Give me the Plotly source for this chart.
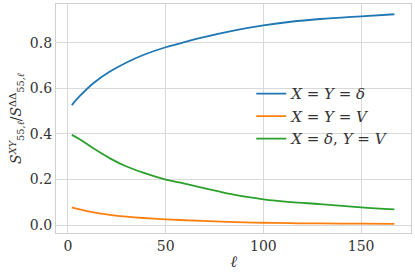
import plotly.graph_objects as go

ell = [2, 6, 13, 21.5, 30, 38.5, 50, 57, 69, 86, 100, 114, 129, 150, 167]
s_dd = [0.527, 0.566, 0.623, 0.674, 0.714, 0.747, 0.781, 0.797, 0.824, 0.856, 0.877, 0.893, 0.905, 0.917, 0.926]
s_vv = [0.078, 0.069, 0.056, 0.045, 0.037, 0.031, 0.025, 0.022, 0.018, 0.013, 0.010, 0.008, 0.007, 0.006, 0.005]
s_dv = [0.396, 0.377, 0.337, 0.293, 0.257, 0.230, 0.200, 0.187, 0.163, 0.131, 0.113, 0.101, 0.092, 0.078, 0.069]

xticks = [0, 50, 100, 150]
yticks = [0.0, 0.2, 0.4, 0.6, 0.8]

font = "DejaVu Serif"

fig = go.Figure()
for y, c, n in [(s_dd, "#1f77b4", "<i>X</i> = <i>Y</i> = <i>δ</i>"),
                (s_vv, "#ff7f0e", "<i>X</i> = <i>Y</i> = <i>V</i>"),
                (s_dv, "#2ca02c", "<i>X</i> = <i>δ</i>, <i>Y</i> = <i>V</i>")]:
    fig.add_trace(go.Scatter(x=ell, y=y, mode="lines",
                             line=dict(color=c, width=1.8, shape="spline", smoothing=1.0), name=n))

axis_common = dict(showgrid=True, gridcolor="#d9d9d9", gridwidth=1, zeroline=False,
                   showline=True, linecolor="#d0d0d0", linewidth=1.2, mirror=True,
                   ticks="", tickfont=dict(size=14, color="#333333", family=font))

fig.update_layout(
    width=415, height=272,
    margin=dict(l=56, r=4, t=4, b=39),
    paper_bgcolor="white", plot_bgcolor="white",
    font=dict(family=font, color="#222222"),
    showlegend=True,
    legend=dict(x=0.55, y=0.68, xanchor="left", yanchor="top", bgcolor="rgba(255,255,255,0)",
                font=dict(size=15, family=font, color="#333333"), tracegroupgap=0,
                itemwidth=30),
    xaxis=dict(range=[-6.1, 175.5], tickvals=xticks, ticktext=[str(t) for t in xticks],
               title=dict(text="<i>ℓ</i>", font=dict(size=16, family=font, color="#333333"), standoff=2),
               **axis_common),
    yaxis=dict(range=[-0.035, 0.971], tickvals=yticks, ticktext=[f"{t:.1f}" for t in yticks],
               title=dict(text="<i>S</i><sup><i>XY</i></sup><sub>55,<i>ℓ</i></sub>/<i>S</i><sup>ΔΔ</sup><sub>55,<i>ℓ</i></sub>",
                          font=dict(size=14, family=font, color="#333333"), standoff=4),
               **axis_common),
)

fig.write_html("out.html", config={"displayModeBar": False},
               post_script="document.body.style.margin='0px';")
